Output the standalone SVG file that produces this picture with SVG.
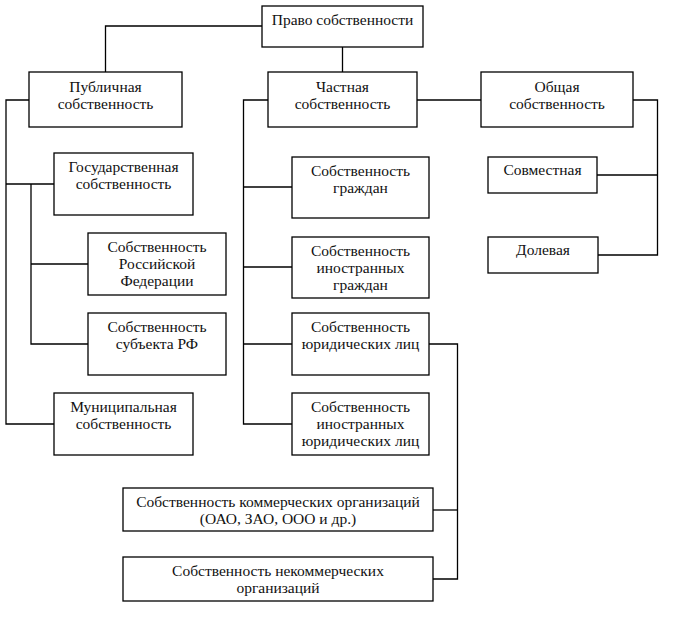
<svg xmlns="http://www.w3.org/2000/svg" width="676" height="620" viewBox="0 0 676 620">
<style>
rect{fill:#fff;stroke:#000;stroke-width:1.3}
text{font-family:"Liberation Serif","Times New Roman",serif;font-size:15.5px;fill:#111;text-anchor:middle}
.c{fill:none;stroke:#000;stroke-width:1.3}
</style>
<rect x="0" y="0" width="676" height="620" style="stroke:none"/>
<g id="connectors">
<path class="c" d="M262 26H105.5V72"/>
<path class="c" d="M342.5 47V72"/>
<path class="c" d="M417 100H481"/>
<path class="c" d="M633 100H657.5V255H598"/>
<path class="c" d="M597 175H657.5"/>
<path class="c" d="M29 100H6V424H54"/>
<path class="c" d="M6 184H54"/>
<path class="c" d="M31 184V344H88"/>
<path class="c" d="M31 264H88"/>
<path class="c" d="M268 100H243.5V424H292"/>
<path class="c" d="M243.5 187H292"/>
<path class="c" d="M243.5 267H292"/>
<path class="c" d="M243.5 344H292"/>
<path class="c" d="M429 344H457.5V579H433"/>
<path class="c" d="M433 510H457.5"/>
</g>
<g id="root"><rect x="262" y="6" width="161" height="41"/><text x="342.5" y="25">Право собственности</text></g>
<g id="public"><rect x="29" y="72" width="153" height="55"/><text x="105.5" y="92">Публичная</text><text x="105.5" y="109">собственность</text></g>
<g id="private"><rect x="268" y="72" width="149" height="55"/><text x="342.5" y="92">Частная</text><text x="342.5" y="109">собственность</text></g>
<g id="common"><rect x="481" y="72" width="152" height="55"/><text x="557" y="92">Общая</text><text x="557" y="109">собственность</text></g>
<g id="joint"><rect x="488" y="157" width="109" height="36"/><text x="542.5" y="175">Совместная</text></g>
<g id="shared"><rect x="488" y="237" width="110" height="36"/><text x="543" y="255">Долевая</text></g>
<g id="state"><rect x="54" y="153" width="139" height="62"/><text x="123.5" y="172">Государственная</text><text x="123.5" y="189">собственность</text></g>
<g id="rf"><rect x="88" y="233" width="138" height="62"/><text x="157" y="252">Собственность</text><text x="157" y="269">Российской</text><text x="157" y="286">Федерации</text></g>
<g id="subject"><rect x="88" y="313" width="138" height="62"/><text x="157" y="332">Собственность</text><text x="157" y="349">субъекта РФ</text></g>
<g id="municipal"><rect x="54" y="393" width="139" height="62"/><text x="123.5" y="412">Муниципальная</text><text x="123.5" y="429">собственность</text></g>
<g id="citizens"><rect x="292" y="157" width="137" height="61"/><text x="360.5" y="176">Собственность</text><text x="360.5" y="193">граждан</text></g>
<g id="foreign-citizens"><rect x="292" y="237" width="137" height="61"/><text x="360.5" y="256">Собственность</text><text x="360.5" y="273">иностранных</text><text x="360.5" y="290">граждан</text></g>
<g id="legal"><rect x="292" y="313" width="137" height="62"/><text x="360.5" y="332">Собственность</text><text x="360.5" y="349">юридических лиц</text></g>
<g id="foreign-legal"><rect x="292" y="393" width="137" height="62"/><text x="360.5" y="412">Собственность</text><text x="360.5" y="429">иностранных</text><text x="360.5" y="446">юридических лиц</text></g>
<g id="commercial"><rect x="123" y="488" width="310" height="43"/><text x="278" y="507">Собственность коммерческих организаций</text><text x="278" y="524">(ОАО, ЗАО, ООО и др.)</text></g>
<g id="noncommercial"><rect x="123" y="557" width="310" height="44"/><text x="278" y="576">Собственность некоммерческих</text><text x="278" y="593">организаций</text></g>
</svg>
